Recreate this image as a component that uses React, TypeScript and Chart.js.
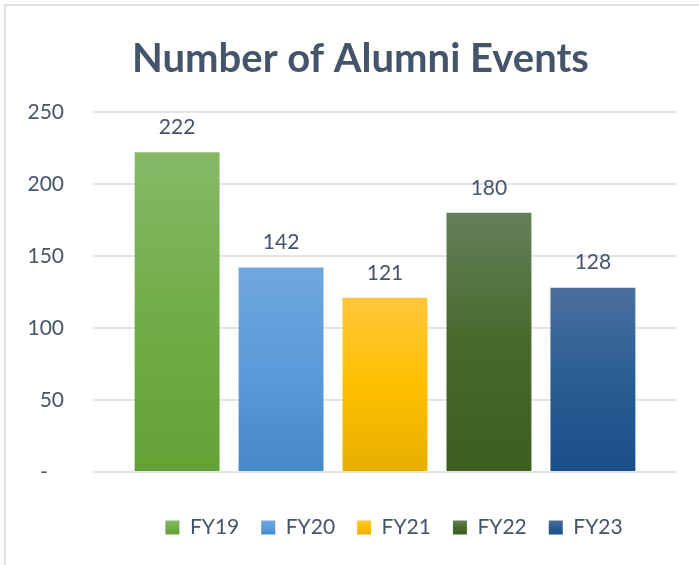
import React, { useEffect, useRef } from "react";
import { Chart, registerables } from "chart.js";

Chart.register(...registerables);

const chartTitle = "Number of Alumni Events";
const categories = ["FY19", "FY20", "FY21", "FY22", "FY23"];
const values = [222, 142, 121, 180, 128];
const topColors = ["#87b967", "#70a7dd", "#ffc63a", "#64805a", "#4b6f9e"];
const midColors = ["#71ad47", "#5b9bd9", "#ffc000", "#476a2c", "#295e94"];
const bottomColors = ["#63a235", "#4588c8", "#e6ae00", "#3c5e21", "#1a4f88"];
const yMin = 0;
const yMax = 250;
const yStep = 50;

const TEXT = "#44546a";
const FONT = "Lato, 'Open Sans', sans-serif";

function barGradient(ctx: any, i: number) {
  if (ctx.type !== "data") return midColors[i];
  const chart = ctx.chart;
  const y = chart.scales && chart.scales.y;
  if (!y || ctx.raw == null) return midColors[i];
  const top = y.getPixelForValue(ctx.raw);
  const bot = y.getPixelForValue(0);
  if (!isFinite(top) || !isFinite(bot) || top === bot) return midColors[i];
  const g = chart.ctx.createLinearGradient(0, top, 0, bot);
  g.addColorStop(0, topColors[i]);
  g.addColorStop(0.5, midColors[i]);
  g.addColorStop(1, bottomColors[i]);
  return g;
}

const framePlugin = {
  id: "frame",
  afterLayout(chart: any) {
    const t = chart.titleBlock;
    if (t) {
      t.left += 12;
      t.right += 12;
    }
    const l = chart.legend;
    if (l) {
      l.left += 9;
      l.right += 9;
    }
  },
  beforeDraw(chart: any) {
    const c = chart.ctx;
    c.save();
    c.fillStyle = "#ffffff";
    c.fillRect(0, 0, chart.width, chart.height);
    c.strokeStyle = "#dde2e8";
    c.lineWidth = 2;
    c.beginPath();
    c.moveTo(5, chart.height);
    c.lineTo(5, 5);
    c.lineTo(chart.width, 5);
    c.stroke();
    c.restore();
    const legend = chart.legend;
    if (legend && legend.legendItems && legend.legendHitBoxes) {
      legend.legendItems.forEach((item: any, i: number) => {
        const hb = legend.legendHitBoxes[i];
        if (!hb) return;
        const t = hb.top + (hb.height - 14) / 2;
        const g = c.createLinearGradient(0, t, 0, t + 14);
        g.addColorStop(0, topColors[i]);
        g.addColorStop(0.5, midColors[i]);
        g.addColorStop(1, bottomColors[i]);
        item.fillStyle = g;
        item.strokeStyle = "rgba(0,0,0,0)";
        item.lineWidth = 0;
      });
    }
  },
};

const valueLabelPlugin = {
  id: "valueLabels",
  afterDatasetsDraw(chart: any) {
    const c = chart.ctx;
    c.save();
    c.fillStyle = TEXT;
    c.font = `21px ${FONT}`;
    c.textAlign = "center";
    c.textBaseline = "middle";
    chart.data.datasets.forEach((ds: any, i: number) => {
      const meta = chart.getDatasetMeta(i);
      const el = meta.data[0];
      if (!el) return;
      c.fillText(String(ds.data[0]), el.x, el.y - 25);
    });
    c.restore();
  },
};

export default function App() {
  const ref = useRef<HTMLCanvasElement | null>(null);

  useEffect(() => {
    document.body.style.margin = "0";
    if (!ref.current) return;
    const chart = new Chart(ref.current, {
      type: "bar",
      data: {
        labels: [""],
        datasets: categories.map((c, i) => ({
          label: c,
          data: [values[i]],
          backgroundColor: (ctx: any) => barGradient(ctx, i),
          borderWidth: 0,
          categoryPercentage: 0.89,
          barPercentage: 0.817,
        })),
      },
      options: {
        responsive: false,
        animation: false,
        layout: { padding: { left: 20, right: 22, top: 0, bottom: 17 } },
        plugins: {
          title: {
            display: true,
            text: chartTitle,
            color: TEXT,
            font: { family: FONT, size: 40, weight: "bold" },
            padding: { top: 35, bottom: 29 },
          },
          legend: {
            display: true,
            position: "bottom",
            fullSize: false,
            labels: {
              boxWidth: 14,
              boxHeight: 14,
              padding: 22,
              color: TEXT,
              font: { family: FONT, size: 21 },
            },
          },
          tooltip: { enabled: false },
        },
        scales: {
          x: {
            display: true,
            grid: { display: false },
            border: { display: false },
            ticks: { display: false },
            afterFit: (s: any) => {
              s.height = 23;
            },
          },
          y: {
            min: yMin,
            max: yMax,
            border: { display: false },
            grid: { color: "#e1e5ea", lineWidth: 2, drawTicks: false },
            ticks: {
              stepSize: yStep,
              padding: 29,
              color: TEXT,
              font: { family: FONT, size: 21 },
              callback: (v: any) => (Number(v) === 0 ? "-   " : String(v)),
            },
            afterFit: (s: any) => {
              s.width = 73;
            },
          },
        },
      },
      plugins: [framePlugin, valueLabelPlugin],
    });
    let cancelled = false;
    if ((document as any).fonts) {
      Promise.all([
        (document as any).fonts.load(`bold 40px Lato`),
        (document as any).fonts.load(`21px Lato`),
      ])
        .then(() => {
          if (!cancelled) chart.update();
        })
        .catch(() => {});
    }
    return () => {
      cancelled = true;
      chart.destroy();
    };
  }, []);

  return (
    <canvas
      ref={ref}
      width={699}
      height={565}
      style={{ position: "fixed", left: 0, top: 0, display: "block" }}
    />
  );
}
